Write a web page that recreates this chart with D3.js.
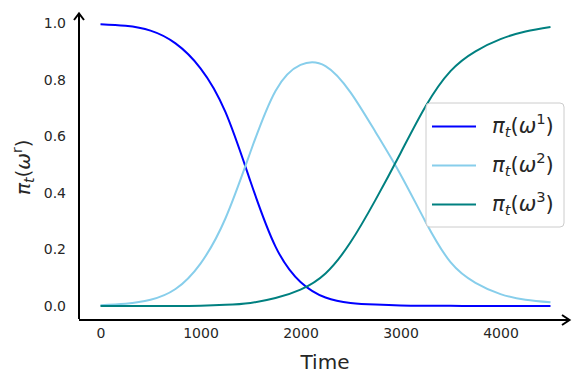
<!DOCTYPE html>
<html><head><meta charset="utf-8">
<script src="https://cdn.jsdelivr.net/npm/d3@7"></script>
<style>body{margin:0;background:#fff}svg{display:block}</style>
</head><body>
<svg id="c" width="584" height="384"></svg>
<script>
const times = [0,250,500,750,1000,1250,1500,1750,2000,2250,2500,2750,3000,3250,3500,3750,4000,4250,4500];
const pi1 = [0.996,0.99,0.973,0.928,0.84,0.685,0.44,0.21,0.085,0.03,0.011,0.005,0.002,0.001,0.0005,0.0003,0.0002,0.0001,0.0001];
const pi2 = [0.003,0.008,0.022,0.06,0.15,0.31,0.545,0.76,0.852,0.848,0.755,0.615,0.465,0.298,0.155,0.082,0.042,0.022,0.013];
const pi3 = [0,0,0,0,0.001,0.004,0.011,0.028,0.058,0.115,0.225,0.375,0.54,0.705,0.83,0.9,0.943,0.97,0.986];
const xTicks = [0,1000,2000,3000,4000];
const yTicks = [0,0.2,0.4,0.6,0.8,1.0];
const seriesSup = ["1","2","3"];
const colors = ["#0000ff","#87ceeb","#008080"];

const svg = d3.select("#c");
const x = d3.scaleLinear().domain([0,4000]).range([100.5,500.5]);
const y = d3.scaleLinear().domain([0,1]).range([306,23]);
const FONT = "DejaVu Sans, sans-serif";
const TXT = "#262626";

// axes lines with arrows
const axisG = svg.append("g");
axisG.append("line").attr("x1",79).attr("y1",319).attr("x2",79).attr("y2",14)
  .attr("stroke","#000").attr("stroke-width",2);
axisG.append("path").attr("d","M74,20 L79,13.5 L84,20").attr("fill","none").attr("stroke","#000").attr("stroke-width",2);
axisG.append("line").attr("x1",79).attr("y1",320).attr("x2",569).attr("y2",320)
  .attr("stroke","#000").attr("stroke-width",2);
axisG.append("path").attr("d","M562,315 L569.5,320 L562,325").attr("fill","none").attr("stroke","#000").attr("stroke-width",2);

// tick labels via d3 axes (no tick lines)
const xa = svg.append("g").attr("transform","translate(0,328)")
  .call(d3.axisBottom(x).tickValues(xTicks).tickSize(0).tickPadding(0).tickFormat(d3.format("d")));
xa.select(".domain").remove();
xa.selectAll("text").attr("font-family",FONT).attr("font-size",14).attr("fill",TXT).attr("dy","0.71em");
const ya = svg.append("g").attr("transform","translate(66,0)")
  .call(d3.axisLeft(y).tickValues(yTicks).tickSize(0).tickPadding(0).tickFormat(d3.format(".1f")));
ya.select(".domain").remove();
ya.selectAll("text").attr("font-family",FONT).attr("font-size",14).attr("fill",TXT);

// lines
const data = [pi1,pi2,pi3];
const line = d3.line().x((d,i)=>x(times[i])).y(d=>y(d)).curve(d3.curveNatural);
data.forEach((s,k)=>{
  svg.append("path").datum(s).attr("d",line).attr("fill","none")
    .attr("stroke",colors[k]).attr("stroke-width",2);
});

// math text helper
function mathText(g, sup, size){
  const t = g.append("text").attr("font-family",FONT).attr("font-size",size).attr("fill",TXT);
  t.append("tspan").attr("font-style","italic").text("π");
  t.append("tspan").attr("font-style","italic").attr("font-size",size*0.7).attr("dy",size*0.2).text("t");
  t.append("tspan").attr("dy",-size*0.2).text("(");
  t.append("tspan").attr("font-style","italic").text("ω");
  t.append("tspan").attr("font-size",size*0.7).attr("dy",-size*0.4).text(sup);
  t.append("tspan").attr("dy",size*0.4).text(")");
  return t;
}

// axis titles
svg.append("text").attr("x",325).attr("y",369).attr("text-anchor","middle")
  .attr("font-family",FONT).attr("font-size",20).attr("fill",TXT).text("Time");
const yl = svg.append("g").attr("transform","translate(30,195) rotate(-90)");
mathText(yl,"r",20);

// legend
const lg = svg.append("g");
lg.append("rect").attr("x",426).attr("y",103).attr("width",138).attr("height",124).attr("rx",4)
  .attr("fill","#fff").attr("fill-opacity",0.85).attr("stroke","#cccccc").attr("stroke-width",1);
const ly = [126.5,165.5,204.5];
colors.forEach((c,k)=>{
  lg.append("line").attr("x1",432).attr("x2",476).attr("y1",ly[k]).attr("y2",ly[k])
    .attr("stroke",c).attr("stroke-width",2);
  const g = lg.append("g").attr("transform",`translate(492,${ly[k]+6})`);
  mathText(g,seriesSup[k],21);
});
</script>
</body></html>
